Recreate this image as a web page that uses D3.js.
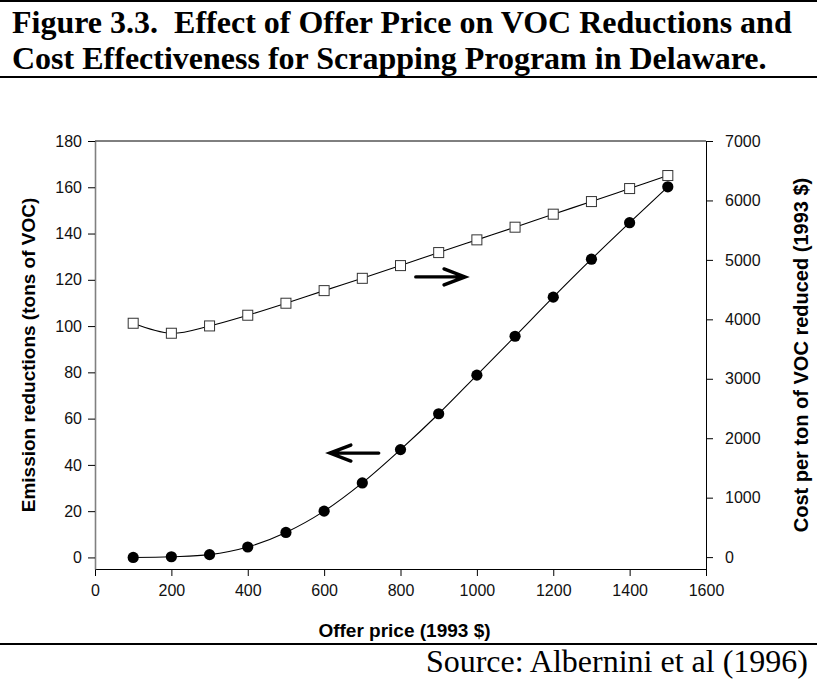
<!DOCTYPE html>
<html>
<head>
<meta charset="utf-8">
<script src="https://cdn.jsdelivr.net/npm/d3@7"></script>
<style>
    body { margin: 0; background: #fff; }
    svg { display: block; }
    .tick text { font-family: 'Liberation Sans', Arial, sans-serif; font-size: 16px; fill: #111; }
    .axis-title { font-family: 'Liberation Sans', Arial, sans-serif; font-size: 19px; font-weight: bold; }
    .title { font-family: 'Liberation Serif', 'Times New Roman', serif; font-size: 32px; font-weight: bold; white-space: pre; }
    .source { font-family: 'Liberation Serif', 'Times New Roman', serif; font-size: 32px; }
</style>
</head>
<body>
<div id="chart"></div>
<script>
// Data
const offerPrice = [100, 200, 300, 400, 500, 600, 700, 800, 900, 1000, 1100, 1200, 1300, 1400, 1500];
const emissionReductions = [0, 0.3, 1.2, 4.5, 10.8, 20, 32.2, 46.6, 62.1, 78.8, 95.6, 112.5, 128.9, 144.7, 160.2];
const costPerTon = [3934, 3766, 3889, 4069, 4271, 4483, 4690, 4904, 5123, 5337, 5550, 5769, 5981, 6200, 6419];

// Tick labels
const priceTicks = [0, 200, 400, 600, 800, 1000, 1200, 1400, 1600];
const emissionTicks = [0, 20, 40, 60, 80, 100, 120, 140, 160, 180];
const costTicks = [0, 1000, 2000, 3000, 4000, 5000, 6000, 7000];

// Texts
const titleLines = [
    'Figure 3.3.  Effect of Offer Price on VOC Reductions and',
    'Cost Effectiveness for Scrapping Program in Delaware.'
];
const labelX = 'Offer price (1993 $)';
const labelLeft = 'Emission reductions (tons of VOC)';
const labelRight = 'Cost per ton of VOC reduced (1993 $)';
const sourceNote = 'Source: Albernini et al (1996)';

// Arrows telling which axis each curve belongs to (data units)
const arrowRight = { from: 840, to: 969, value: 4714 };  // cost axis
const arrowLeft = { from: 743, to: 615, value: 45.1 };   // emission axis

const width = 817, height = 681;
const plot = { left: 95, right: 706, top: 141, bottom: 569 };
const fmt = d3.format('d');

const svg = d3.select('#chart').append('svg')
    .attr('width', width)
    .attr('height', height);

// Title block with rules
svg.append('line').attr('x1', 0).attr('x2', width).attr('y1', 1).attr('y2', 1)
    .attr('stroke', '#000').attr('stroke-width', 2);
svg.append('line').attr('x1', 0).attr('x2', width).attr('y1', 77).attr('y2', 77)
    .attr('stroke', '#000').attr('stroke-width', 2);
svg.selectAll('text.title')
    .data(titleLines)
    .join('text')
    .classed('title', true)
    .attr('x', 12)
    .attr('y', (d, i) => 33 + i * 36)
    .text(d => d);

// Scales
const scaleX = d3.scaleLinear([0, 1600], [plot.left, plot.right]);
const scaleLeft = d3.scaleLinear([-5, 180], [plot.bottom, plot.top]);
const scaleRight = d3.scaleLinear([-200, 7000], [plot.bottom, plot.top]);

// Axes
const axisX = svg.append('g')
    .attr('transform', `translate(0,${plot.bottom})`)
    .call(d3.axisBottom(scaleX).tickValues(priceTicks).tickFormat(fmt)
        .tickSize(7).tickSizeOuter(0).tickPadding(5));
axisX.selectAll('.tick text').attr('dy', '0.95em');

const axisLeft = svg.append('g')
    .attr('transform', `translate(${plot.left},0)`)
    .call(d3.axisLeft(scaleLeft).tickValues(emissionTicks).tickFormat(fmt)
        .tickSize(7).tickSizeOuter(0).tickPadding(6));
axisLeft.select('.domain').attr('stroke', '#808080').attr('stroke-width', 1.6);

svg.append('g')
    .attr('transform', `translate(${plot.right},0)`)
    .call(d3.axisRight(scaleRight).tickValues(costTicks).tickFormat(fmt)
        .tickSize(7).tickSizeOuter(0).tickPadding(12));

// top frame line
svg.append('line')
    .attr('x1', scaleX(0)).attr('x2', scaleX(1600))
    .attr('y1', scaleLeft(180)).attr('y2', scaleLeft(180))
    .attr('stroke', '#000');

// Axis titles
svg.append('text').classed('axis-title', true)
    .attr('x', (plot.left + plot.right) / 2 + 4)
    .attr('y', 637)
    .attr('text-anchor', 'middle')
    .text(labelX);
svg.append('text').classed('axis-title', true)
    .attr('transform', `translate(35,${(plot.top + plot.bottom) / 2}) rotate(-90)`)
    .attr('text-anchor', 'middle')
    .text(labelLeft);
svg.append('text').classed('axis-title', true)
    .attr('transform', `translate(808,${(plot.top + plot.bottom) / 2}) rotate(-90)`)
    .attr('text-anchor', 'middle')
    .style('font-size', '20px')
    .text(labelRight);

// Curves
const costPoints = offerPrice.map((p, i) => [p, costPerTon[i]]);
const emissionPoints = offerPrice.map((p, i) => [p, emissionReductions[i]]);

const costLine = d3.line()
    .x(d => scaleX(d[0]))
    .y(d => scaleRight(d[1]))
    .curve(d3.curveCatmullRom);
const emissionLine = d3.line()
    .x(d => scaleX(d[0]))
    .y(d => scaleLeft(d[1]))
    .curve(d3.curveCatmullRom);

svg.append('path').datum(costPoints)
    .attr('d', costLine)
    .attr('fill', 'none').attr('stroke', '#000').attr('stroke-width', 1.1);
svg.append('path').datum(emissionPoints)
    .attr('d', emissionLine)
    .attr('fill', 'none').attr('stroke', '#000').attr('stroke-width', 1.1);

const sq = 10;
svg.selectAll('rect.cost')
    .data(costPoints)
    .join('rect')
    .classed('cost', true)
    .attr('x', d => scaleX(d[0]) - sq / 2)
    .attr('y', d => scaleRight(d[1]) - sq / 2)
    .attr('width', sq).attr('height', sq)
    .attr('fill', '#fff').attr('stroke', '#333').attr('stroke-width', 1);

svg.selectAll('circle.emission')
    .data(emissionPoints)
    .join('circle')
    .classed('emission', true)
    .attr('cx', d => scaleX(d[0]))
    .attr('cy', d => scaleLeft(d[1]))
    .attr('r', 5.6)
    .attr('fill', '#000');

// Arrows
function drawArrow(x1, x2, y) {
    const dir = x2 > x1 ? 1 : -1;
    const p = d3.path();
    p.moveTo(x1, y); p.lineTo(x2 - dir, y);
    p.moveTo(x2 - dir * 21, y - 8); p.lineTo(x2, y); p.lineTo(x2 - dir * 21, y + 8);
    svg.append('path').attr('d', p.toString())
        .attr('fill', 'none').attr('stroke', '#000')
        .attr('stroke-width', 3.4).attr('stroke-linejoin', 'miter').attr('stroke-linecap', 'round');
}
drawArrow(scaleX(arrowRight.from), scaleX(arrowRight.to), scaleRight(arrowRight.value));
drawArrow(scaleX(arrowLeft.from), scaleX(arrowLeft.to), scaleLeft(arrowLeft.value));

// Source block
svg.append('line').attr('x1', 0).attr('x2', width).attr('y1', 644).attr('y2', 644)
    .attr('stroke', '#000').attr('stroke-width', 2.2);
svg.append('text').classed('source', true)
    .attr('x', 808).attr('y', 672)
    .attr('text-anchor', 'end')
    .text(sourceNote);
</script>
</body>
</html>
